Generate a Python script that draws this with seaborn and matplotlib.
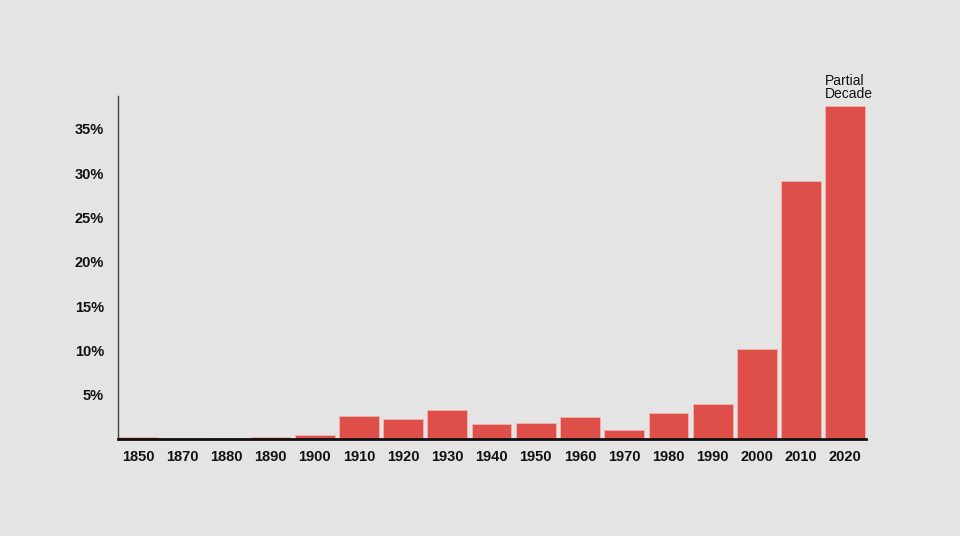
import matplotlib
matplotlib.use("Agg")
import matplotlib.pyplot as plt
import matplotlib.ticker as ticker
import pandas as pd
import seaborn as sns

decades = ["1850", "1870", "1880", "1890", "1900", "1910", "1920", "1930", "1940",
           "1950", "1960", "1970", "1980", "1990", "2000", "2010", "2020"]
shares = [0.2, 0.05, 0.1, 0.2, 0.5, 2.6, 2.3, 3.3, 1.65, 1.8, 2.5, 1.0, 2.9, 3.9, 10.1, 29.1, 37.6]
yticks = [5, 10, 15, 20, 25, 30, 35]

bg = "#e4e4e4"
red = "#de4f4a"

df = pd.DataFrame({"decade": decades, "share": shares})

sns.set_theme(style="white")
plt.rcParams["font.family"] = ["Liberation Sans", "DejaVu Sans"]

fig = plt.figure(figsize=(9.6, 5.36), dpi=100, facecolor=bg)
ax = fig.add_axes([0.1229, 0.181, 0.7792, 0.640])
ax.set_facecolor(bg)

sns.barplot(data=df, x="decade", y="share", color=red, saturation=1, width=0.9,
            edgecolor="#f2b5ae", linewidth=0.6, ax=ax)

ax.set_xlim(-0.45, 16.47)
ax.set_ylim(0, 38.7)
ax.set_yticks(yticks)
ax.yaxis.set_major_formatter(ticker.StrMethodFormatter("{x:.0f}%"))
ax.set_xlabel("")
ax.set_ylabel("")
ax.tick_params(axis="both", length=0, labelsize=10.5, colors="#111111")
ax.tick_params(axis="y", pad=10)
ax.tick_params(axis="x", pad=8)
for lab in ax.get_xticklabels() + ax.get_yticklabels():
    lab.set_fontweight("bold")

for side in ["top", "right"]:
    ax.spines[side].set_visible(False)
ax.spines["left"].set_color("#444444")
ax.spines["left"].set_linewidth(1.0)
ax.spines["bottom"].set_color("#111111")
ax.spines["bottom"].set_linewidth(2.0)
ax.grid(False)

ax.text(len(decades) - 1 - 0.45, shares[-1] + 0.5, "Partial\nDecade", ha="left", va="bottom",
        fontsize=10, color="#111111", linespacing=0.95)

fig.savefig("out.png", dpi=100, facecolor=bg)
